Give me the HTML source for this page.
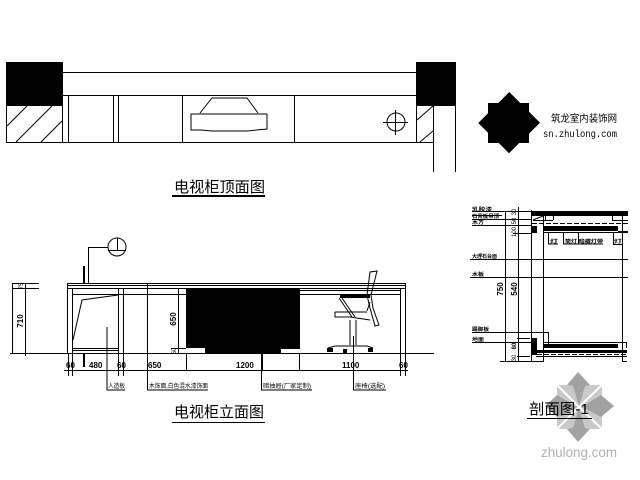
<!DOCTYPE html>
<html><head><meta charset="utf-8"><style>
html,body{margin:0;padding:0;background:#fff}
svg{display:block}
text{font-family:"Liberation Sans","Noto Sans CJK SC",sans-serif;fill:#000}
.t{font-size:15px}
.s{font-size:8px;font-weight:bold}
.x{font-size:6px}
.y{font-size:5px;font-weight:bold}
.l{fill:none;stroke:#000;stroke-width:1}
</style></head><body>
<svg width="640" height="480" viewBox="0 0 640 480" shape-rendering="crispEdges">
<!-- Watermark -->
<g>
<rect x="557" y="385" width="45" height="44" fill="#c9c9c9"/>
<g fill="#a2a2a2" shape-rendering="auto">
<polygon points="578,372 590,385 585,386 579,406 573,386 567,385"/>
<polygon points="578,442 590,429 585,428 579,408 573,428 567,429"/>
<polygon points="614,406 601,417 582,407 601,395"/>
<polygon points="545,406 557,417 577,407 557,395"/>
</g>
<path d="M579 407L557 385M579 407L602 385M579 407L557 429M579 407L602 429" stroke="#fff" stroke-width="2" shape-rendering="auto"/>
<text x="541" y="457" style="font-size:14px;fill:#b0b0b0" textLength="76" lengthAdjust="spacingAndGlyphs">zhulong.com</text>
</g>

<!-- Top plan -->
<rect x="6" y="62" width="57" height="44"/>
<rect x="416" y="62" width="40" height="44"/>
<path class="l" d="M63 72.500H416M63 95.500H416M6 142.500H433M6.500 106V142M62.500 95V142M68.500 95V142M113.500 95V142M118.500 95V142M182.500 95V142M294.500 95V142M416.500 106V142M433.500 106V172M455.500 106V172"/>
<g class="l" shape-rendering="auto">
<path d="M7 126L27 106M16 142L52 106M41 142L62 121M417 120L433 106M420 142L433 131"/>
<path d="M200 113L212 98H247L258 113M191 114H267V129L247 131H212L201 130H191Z"/>
<circle cx="396" cy="122" r="9"/>
</g>
<path class="l" d="M383 122.500H408M395.500 110V135"/>
<text class="t" x="174" y="192" textLength="91" lengthAdjust="spacingAndGlyphs">电视柜顶面图</text>
<rect x="172" y="195" width="93" height="2"/>

<!-- Logo -->
<rect x="488" y="103" width="41" height="40"/>
<polygon points="509,92 540,123 509,153 478,123"/>
<text x="551" y="122" style="font-size:10px" textLength="66" lengthAdjust="spacingAndGlyphs">筑龙室内装饰网</text>
<text x="543" y="137" style="font-family:'Liberation Mono',monospace;font-size:10.5px" textLength="74" lengthAdjust="spacingAndGlyphs">sn.zhulong.com</text>

<!-- Elevation -->
<path class="l" d="M88 247.500H108"/>
<circle class="l" cx="117" cy="247" r="9" shape-rendering="auto"/>
<path class="l" d="M108 250.500H126M117.500 238V250M88.500 247V283"/>
<rect x="83" y="266" width="2" height="17"/>
<rect x="83" y="354" width="2" height="13"/>
<path class="l" d="M67 283.500H406M67 285.500H406M67 288.500H406M72 294.500H186M300 294.500H401M300 290.500H401M67.500 283V353M72.500 288V353M118.500 288V353M123.500 288V353M400.500 288V353M405.500 283V353M72 348.500H118M72 350.500H118M10 353.500H434"/>
<path d="M186 288H300V349H281V353H205V348H186Z"/>
<path class="l" shape-rendering="auto" d="M73 340L82 300L118 295M107 327V390H125"/>
<!-- Chair -->
<g class="l" shape-rendering="auto">
<path d="M370 272L367 295L370 308L375 326L379 325L373 308L371 295L377 271Z"/>
<path d="M339 298L352 317M342 298L355 317"/>
<path d="M335 312H367M335 312V317H350L370 320M367 311L370 302"/>
<path d="M350 320V345M356 320V345M328 348L335 346H367L373 348"/>
</g>
<rect x="340" y="295" width="30" height="3"/>
<rect x="327" y="348" width="6" height="4"/>
<rect x="343" y="349" width="4" height="4"/>
<rect x="368" y="348" width="5" height="4"/>
<!-- Dimensions -->
<path class="l" d="M12 283.500H39M12 288.500H39M12 353.500H39M25.500 283V356M12.500 283V354M64 370.500H408M68.500 354V376M72.500 354V376M118.500 354V376M123.500 354V376M147.500 283V390H208M186.500 354V371M262.500 354V371M299.500 354V371M400.500 354V376M405.500 354V376M178.500 288V354M177 288.500H186M171 348.500H186M261.500 353V390H312M353.500 336V390H386"/>
<g transform="rotate(-90 23 321)"><text class="s" x="23" y="321" text-anchor="middle">710</text></g>
<g transform="rotate(-90 23 286)"><text class="x" x="23" y="286" text-anchor="middle">75</text></g>
<g transform="rotate(-90 176 319)"><text class="s" x="176" y="319" text-anchor="middle">650</text></g>
<g transform="rotate(-90 176 351)"><text class="x" x="176" y="351" text-anchor="middle">50</text></g>
<text class="s" x="66" y="368">60</text>
<text class="s" x="89" y="368">480</text>
<text class="s" x="117" y="368">60</text>
<text class="s" x="148" y="368">650</text>
<text class="s" x="236" y="368">1200</text>
<text class="s" x="342" y="368">1100</text>
<text class="s" x="399" y="368">60</text>
<text class="x" x="108" y="388" textLength="17" lengthAdjust="spacingAndGlyphs">人造板</text>
<text class="x" x="149" y="388" textLength="59" lengthAdjust="spacingAndGlyphs">木饰面,白色混水漆饰面</text>
<text class="x" x="263" y="388" textLength="48" lengthAdjust="spacingAndGlyphs">暗抽屉(厂家定制)</text>
<text class="x" x="355" y="388" textLength="30" lengthAdjust="spacingAndGlyphs">座椅(选配)</text>
<text class="t" x="174" y="417" textLength="90" lengthAdjust="spacingAndGlyphs">电视柜立面图</text>
<path class="l" d="M172 422.500H265"/>

<!-- Section -->
<rect x="531" y="211" width="97" height="5"/>
<rect x="532" y="226" width="5" height="7"/>
<rect x="543" y="226" width="75" height="5"/>
<rect x="532" y="338" width="5" height="17"/>
<rect x="543" y="344" width="75" height="4"/>
<rect x="536" y="350" width="91" height="3"/>
<path class="l" stroke-dasharray="5 2" d="M532 223.500H628M537 354.500H627"/>
<path class="l" d="M505.500 212V362M518.500 207V362M531.500 210V362M543.500 216V362M622.500 216V362M472 211.500H531M472 215.500H502M472 219.500H531M472 225.500H531M513 233.500H531M533 220.500H553M612 220.500H628M545.500 216V220M553.500 216V220M612.500 216V220M618 231.500H628M543 232.500H628M470 259.500H628M470 277.500H628M472 332.500H548M548.500 332V345M472 342.500H531M517 338.500H530M543 342.500H627M626.500 342V348M536 356.500H627M517 356.500H530M500 361.500H543M622 361.500H627M548.500 232V244H558M563.500 232V244H603M578.500 232V244M613 244.500H622M613.500 232V244"/>
<path class="l" shape-rendering="auto" d="M533 220L543 216"/>
<text class="y" x="472" y="211" textLength="20" lengthAdjust="spacingAndGlyphs">乳胶漆</text>
<text class="y" x="472" y="218" textLength="27" lengthAdjust="spacingAndGlyphs">石膏板吊顶</text>
<text class="y" x="472" y="224" textLength="12" lengthAdjust="spacingAndGlyphs">木方</text>
<text class="y" x="472" y="258" textLength="25" lengthAdjust="spacingAndGlyphs">大理石台面</text>
<text class="y" x="472" y="276" textLength="12" lengthAdjust="spacingAndGlyphs">木板</text>
<text class="y" x="472" y="331" textLength="17" lengthAdjust="spacingAndGlyphs">踢脚板</text>
<text class="y" x="472" y="341" textLength="12" lengthAdjust="spacingAndGlyphs">地面</text>
<text class="y" x="550" y="243" textLength="8" lengthAdjust="spacingAndGlyphs">灯</text>
<text class="y" x="565" y="243" textLength="38" lengthAdjust="spacingAndGlyphs">筒灯 暗藏灯带</text>
<text class="y" x="614" y="243" textLength="8" lengthAdjust="spacingAndGlyphs">灯</text>
<g transform="rotate(-90 503 289)"><text class="s" x="503" y="289" text-anchor="middle">750</text></g>
<g transform="rotate(-90 517 289)"><text class="s" x="517" y="289" text-anchor="middle">540</text></g>
<g transform="rotate(-90 516 346)"><text class="x" x="516" y="346" text-anchor="middle" style="font-weight:bold">80</text></g>
<g transform="rotate(-90 516 358)"><text class="x" x="516" y="358" text-anchor="middle">30</text></g>
<g transform="rotate(-90 516 212)"><text class="x" x="516" y="212" text-anchor="middle">30</text></g>
<g transform="rotate(-90 516 221)"><text class="x" x="516" y="221" text-anchor="middle">50</text></g>
<g transform="rotate(-90 516 232)"><text class="x" x="516" y="232" text-anchor="middle">100</text></g>
<text class="t" x="529" y="414" textLength="60" lengthAdjust="spacingAndGlyphs">剖面图-1</text>
<path class="l" d="M527 418.500H592"/>
</svg>
</body></html>
